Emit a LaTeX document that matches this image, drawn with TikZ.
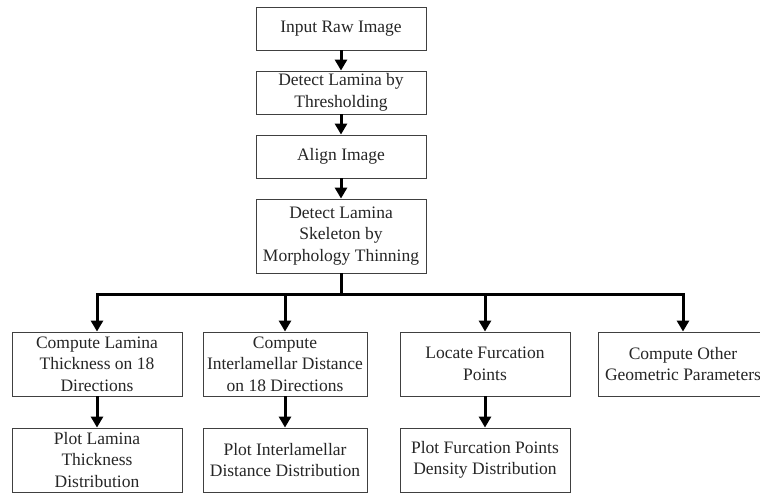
\documentclass[tikz,border=0pt]{standalone}
\usepackage{fontspec}
\setmainfont{Liberation Serif}
\usetikzlibrary{arrows.meta}
\begin{document}
\begin{tikzpicture}[x=1pt,y=-1pt,
  box/.style={draw=black!75,line width=0.9pt,rectangle,align=center,inner sep=0pt,
    font=\fontsize{17.5}{21.5}\selectfont,text=black!85},
  arr/.style={line width=3pt,-{Triangle[width=12pt,length=11pt]}},
  link/.style={line width=3pt}]
\clip (0,0) rectangle (760,496);
\fill[white] (0,0) rectangle (760,496);
\node[box,minimum width=170pt,minimum height=43pt] (b1) at (341,28.5) {Input Raw Image};
\node[box,minimum width=170pt,minimum height=43pt] (b2) at (341,92.5) {Detect Lamina by\\Thresholding};
\node[box,minimum width=170pt,minimum height=43pt] (b3) at (341,156.5) {Align Image};
\node[box,minimum width=170pt,minimum height=74pt] (b4) at (341,236) {Detect Lamina\\Skeleton by\\Morphology Thinning};
\node[box,minimum width=170pt,minimum height=64pt] (c1) at (97,364) {Compute Lamina\\Thickness on 18\\Directions};
\node[box,minimum width=164pt,minimum height=64pt] (c2) at (285,364) {Compute\\Interlamellar Distance\\on 18 Directions};
\node[box,minimum width=170pt,minimum height=64pt] (c3) at (485,364) {Locate Furcation\\Points};
\node[box,minimum width=170pt,minimum height=64pt] (c4) at (683,364) {Compute Other\\Geometric Parameters};
\node[box,minimum width=170pt,minimum height=64pt] (d1) at (97,460) {Plot Lamina\\Thickness\\Distribution};
\node[box,minimum width=164pt,minimum height=64pt] (d2) at (285,460) {Plot Interlamellar\\Distance Distribution};
\node[box,minimum width=170pt,minimum height=64pt] (d3) at (485,460) {Plot Furcation Points\\Density Distribution};
\coordinate (bus) at (341,294);
\draw[arr] (b1) -- (b2);
\draw[arr] (b2) -- (b3);
\draw[arr] (b3) -- (b4);
\draw[link] (b4.south) -- (bus);
\draw[arr] (bus) -| (c1.north);
\draw[arr] (bus) -| (c2.north);
\draw[arr] (bus) -| (c3.north);
\draw[arr] (bus) -| (c4.north);
\draw[arr] (c1) -- (d1);
\draw[arr] (c2) -- (d2);
\draw[arr] (c3) -- (d3);
\end{tikzpicture}
\end{document}
